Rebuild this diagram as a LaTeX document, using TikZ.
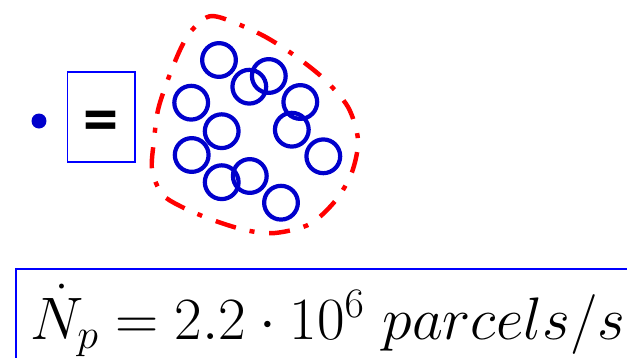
\RequirePackage{fix-cm}
\documentclass[tikz,border=0pt]{standalone}
\definecolor{ParcelBlue}{HTML}{0000CC}
\definecolor{FrameBlue}{HTML}{0000FF}
\definecolor{CloudRed}{HTML}{FF0000}
\usepackage{fontspec}
\newfontfamily\calibrifont{Carlito}
\usepackage{tikz}
\usetikzlibrary{positioning}

\begin{document}
\begin{tikzpicture}[x=0.03cm, y=-0.03cm, every node/.style={font=\normalsize}]
      \clip (0,0) rectangle (627,357);
      \node[circle, fill=ParcelBlue, minimum size=12.8pt, inner sep=0pt] (dot) at (39,121) {};
      \node[draw=FrameBlue, line width=1.4pt, minimum width=57.6pt, minimum height=76.8pt, inner sep=0pt] (eq) at (101.3,116.7) {};
      \node[font=\calibrifont\bfseries\fontsize{60}{64}\selectfont, inner sep=0pt] (eqsign) at ([yshift=-9pt]eq.center) {=};
      \draw[CloudRed, line width=3.8pt, dash pattern=on 18pt off 12.5pt on 4.3pt off 12pt] plot[smooth cycle] coordinates {(213,16) (258,33) (291,53) (323,78) (348,107) (358,140) (352,172) (336,200) (310,224) (275,233) (245,230) (210,219) (180,206) (162,194) (152,170) (154,140) (158,110) (167,82) (180,50) (192,30)};
      \foreach \i/\x/\y in {1/219/60, 2/249.3/86.7, 3/268.8/76, 4/191.2/102.7, 5/300.3/102, 6/221.7/131.2, 7/291.8/129.7, 8/191.7/155, 9/323.3/156.3, 10/221.7/182.2, 11/249.8/176, 12/281/202.7}
        \node[circle, draw=ParcelBlue, line width=3.6pt, minimum size=28.8pt, inner sep=0pt] (p\i) at (\x,\y) {};
      \draw[FrameBlue, line width=1.4pt] (16,400) |- (700,269);
      \node[anchor=base west, inner sep=0pt, font=\fontsize{51.2}{57}\selectfont] (rate) at (30,339) {$\dot{N}_p = 2.2\cdot 10^6\ parcels/s$};
    \end{tikzpicture}
\end{document}
